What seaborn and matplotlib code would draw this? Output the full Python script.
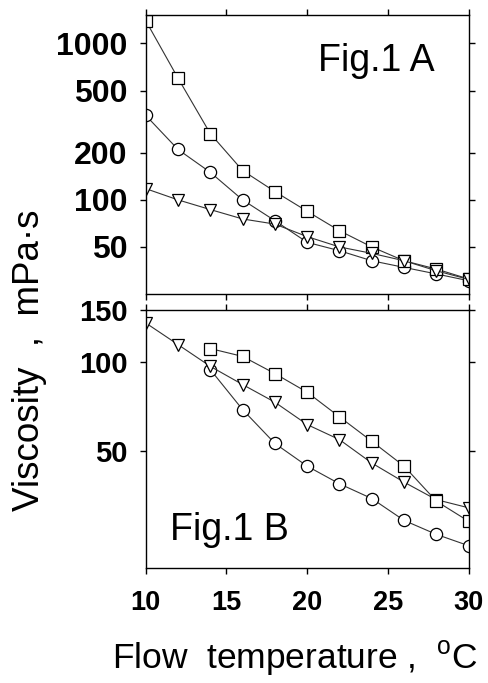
import numpy as np
import pandas as pd
import matplotlib
matplotlib.use("Agg")
import matplotlib.pyplot as plt
import seaborn as sns

# DATA -------------------------------------------------------------------
temp = [10, 12, 14, 16, 18, 20, 22, 24, 26, 28, 30]

# Fig.1 A
a_square = [1400, 600, 265, 154, 113, 84.5, 63.5, 50, 40.8, 36.1, 31.2]
a_circle = [347, 210, 150, 100, 73.6, 53.5, 47.3, 40.8, 37, 33.6, 30.4]
a_triangle = [118, 100, 86.7, 75.5, 70, 58.2, 50, 45.5, 40.8, 35.2, 31]

# Fig.1 B
temp_b = [14, 16, 18, 20, 22, 24, 26, 28, 30]
b_square = [111, 104.4, 91.3, 78.9, 65.1, 53.8, 44.3, 33.7, 28.8]
b_circle = [94.2, 68.9, 52.9, 44.3, 38.6, 34.4, 29.0, 26.0, 23.8]
b_triangle = [135.6, 114.5, 96.6, 83.8, 73.0, 61.3, 54.5, 45.4, 39.1, 34.1, 32.0]

a_yticks = [50, 100, 200, 500, 1000]
b_yticks = [50, 100, 150]
xticks = [10, 15, 20, 25, 30]

# STYLE -------------------------------------------------------------------
sns.set_style("ticks")
plt.rcParams['font.family'] = ['Liberation Sans', 'DejaVu Sans']
plt.rcParams['mathtext.fontset'] = 'custom'
plt.rcParams['mathtext.rm'] = 'Liberation Sans'
plt.rcParams['text.color'] = 'black'
plt.rcParams['xtick.color'] = 'black'
plt.rcParams['ytick.color'] = 'black'
plt.rcParams['xtick.labelcolor'] = 'black'
plt.rcParams['ytick.labelcolor'] = 'black'

fig = plt.figure(figsize=(4.88, 6.83), dpi=100)
ax1 = fig.add_axes([0.2986, 0.5695, 0.6618, 0.4085])
ax2 = fig.add_axes([0.2986, 0.1684, 0.6618, 0.3777])

line_kw = dict(color='#333333', linewidth=0.8, markerfacecolor='white',
               markeredgecolor='black', markeredgewidth=0.9)


def draw(ax, x, y, marker, size):
    sns.lineplot(x=x, y=y, ax=ax, marker=marker, markersize=size, **line_kw)


#Fig.1 A
draw(ax1, temp, a_circle, 'o', 8.8)
draw(ax1, temp, a_square, 's', 8.3)
draw(ax1, temp, a_triangle, 'v', 9.3)

#Fig.1 B
draw(ax2, temp_b, b_circle, 'o', 8.8)
draw(ax2, temp, b_triangle, 'v', 9.3)
draw(ax2, temp_b, b_square, 's', 8.3)

for ax in (ax1, ax2):
    ax.set_yscale('log')
    ax.set_xlim(10, 30)
    ax.set_xticks(xticks)
    ax.minorticks_off()
    ax.tick_params(direction='out', top=True, right=True, length=4, width=1,
                   color='black', labelcolor='black')
    ax.tick_params(axis='y', pad=9)
    ax.tick_params(axis='x', pad=12)
    for s in ax.spines.values():
        s.set_linewidth(1)
        s.set_color('black')
    ax.set_xlabel('')
    ax.set_ylabel('')

ax1.set_ylim(25, 1520)
ax1.set_yticks(a_yticks)
ax1.set_yticklabels([str(v) for v in a_yticks], fontsize=23, fontweight='bold')
ax1.tick_params(labelbottom=False)

ax2.set_ylim(20, 150)
ax2.set_yticks(b_yticks)
ax2.set_yticklabels([str(v) for v in b_yticks], fontsize=21, fontweight='bold')
ax2.set_xticklabels([str(v) for v in xticks], fontsize=19.5, fontweight='bold')

ax1.text(0.533, 0.80, 'Fig.1 A', transform=ax1.transAxes, fontsize=27,
         ha='left', va='baseline')
ax2.text(0.075, 0.11, 'Fig.1 B', transform=ax2.transAxes, fontsize=27,
         ha='left', va='baseline')

fig.text(0.061, 0.473, 'Viscosity  ,  mPa·s', rotation=90, fontsize=26.5,
         ha='center', va='center')
fig.text(0.605, 0.022, r'Flow  temperature ,  $^{\mathrm{o}}$C', fontsize=25.5,
         ha='center', va='baseline')

fig.savefig('out.png', dpi=100)
